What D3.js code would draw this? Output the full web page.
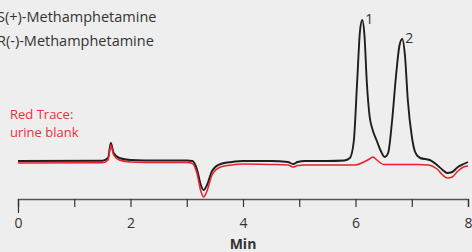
<!DOCTYPE html>
<html>
<head>
<meta charset="utf-8">
<script src="https://cdn.jsdelivr.net/npm/d3@7"></script>
<style>
  html, body { margin: 0; padding: 0; background: #eeeeee; overflow: hidden; }
  svg { display: block; font-family: "Open Sans", "DejaVu Sans", sans-serif; }
</style>
</head>
<body>
<script>
// retention time (min), signal (arbitrary units)
const sampleTime = [0, 1.5, 1.6, 1.65, 1.7, 1.8, 2.0, 2.5, 3.0, 3.1, 3.18, 3.25, 3.3, 3.36, 3.45, 3.6, 3.8, 4.0,
    4.5, 4.8, 4.89, 4.97, 5.1, 5.5, 5.8, 5.9, 5.97, 6.03, 6.08, 6.12, 6.16, 6.2, 6.25, 6.3, 6.38, 6.45, 6.52,
    6.58, 6.65, 6.72, 6.78, 6.83, 6.88, 6.93, 7.0, 7.06, 7.15, 7.32, 7.45, 7.55, 7.63, 7.72, 7.82, 7.92, 8.0];

const sampleSignal = [0, 0.3, 3, 18, 8, 3, 1, 0.5, 0.5, 0, -8, -24, -29, -24, -10, -3, -1, 0,
    0, -1, -3, -1, 0, 0, 0.5, 3, 20, 80, 130, 141, 125, 80, 45, 32, 20, 10, 4,
    8, 40, 85, 115, 122, 105, 61, 25, 9, 3, 1, -4, -9, -12, -11, -6, -3, -1];

const blankTime = [0, 1.5, 1.6, 1.65, 1.7, 1.8, 2.0, 2.5, 3.0, 3.1, 3.18, 3.25, 3.3, 3.36, 3.45, 3.6, 3.8, 4.0,
    4.5, 4.8, 4.89, 4.97, 5.1, 5.5, 6.0, 6.15, 6.25, 6.31, 6.38, 6.5, 6.8, 7.1, 7.3, 7.45, 7.55, 7.63, 7.72,
    7.82, 7.92, 8.0];

const blankSignal = [-2, -1.8, 1, 16, 6, 1, -1, -1.5, -1.5, -2.5, -12, -30, -36, -30, -14, -6, -4, -3,
    -3.5, -4, -6, -4.5, -4, -4, -4, -1, 2, 4, 1, -3.5, -3.5, -3.5, -4, -8, -14, -17, -16, -10, -6, -5];

const tickValues = [0, 1, 2, 3, 4, 5, 6, 7, 8];
const tickLabels = [0, 2, 4, 6, 8];
const peakLabels = [{name: "1", t: 6.12, v: 141}, {name: "2", t: 6.83, v: 122}];
const legendLines = ["S(+)-Methamphetamine", "R(-)-Methamphetamine"];
const blankLines = ["Red Trace:", "urine blank"];

const width = 472, height = 252;

const svg = d3.select("body").append("svg")
    .attr("width", width)
    .attr("height", height);

const x = d3.scaleLinear().domain([0, 8]).range([18, 468]);
const y = d3.scaleLinear().domain([-30, 140]).range([191, 21]);

// legend text
svg.selectAll("text.legend")
    .data(legendLines)
    .join("text")
    .attr("class", "legend")
    .attr("x", -3)
    .attr("y", (d, i) => 22 + i * 24)
    .attr("fill", "#333")
    .style("font-size", "14.5px")
    .text(d => d);

svg.selectAll("text.blank")
    .data(blankLines)
    .join("text")
    .attr("class", "blank")
    .attr("x", 10)
    .attr("y", (d, i) => 119 + i * 18)
    .attr("fill", "#ee2e3a")
    .style("font-size", "13px")
    .text(d => d);

// traces
const line = d3.line()
    .x(d => x(d[0]))
    .y(d => y(d[1]))
    .curve(d3.curveMonotoneX);

svg.append("path")
    .datum(d3.zip(sampleTime, sampleSignal))
    .attr("fill", "none")
    .attr("stroke", "#1e1e1e")
    .attr("stroke-width", 1.9)
    .attr("d", line);

svg.append("path")
    .datum(d3.zip(blankTime, blankSignal))
    .attr("fill", "none")
    .attr("stroke", "#e8202a")
    .attr("stroke-width", 1.5)
    .attr("d", line);

// peak numbers
svg.selectAll("text.peak")
    .data(peakLabels)
    .join("text")
    .attr("class", "peak")
    .attr("x", d => x(d.t) + 3)
    .attr("y", d => y(d.v) + 4)
    .attr("fill", "#333")
    .style("font-size", "14px")
    .text(d => d.name);

// x axis
const axis = svg.append("g")
    .attr("transform", "translate(0, 199)")
    .call(d3.axisBottom(x)
        .tickValues(tickValues)
        .tickSizeOuter(0)
        .tickSize(8)
        .tickFormat(d => tickLabels.includes(d) ? d : ""));

axis.select(".domain").attr("stroke", "#555").attr("stroke-width", 1.4);
axis.selectAll(".tick line")
    .attr("stroke", "#333")
    .attr("stroke-width", 1.2)
    .attr("y2", d => d === 0 ? 14 : 8);
axis.selectAll(".tick text")
    .attr("y", 19)
    .attr("fill", "#333")
    .style("font-size", "14px")
    .style("font-family", "'Open Sans', sans-serif");

svg.append("text")
    .attr("x", 243)
    .attr("y", 249)
    .attr("text-anchor", "middle")
    .attr("fill", "#333")
    .style("font-size", "14px")
    .style("font-weight", "bold")
    .text("Min");
</script>
</body>
</html>
